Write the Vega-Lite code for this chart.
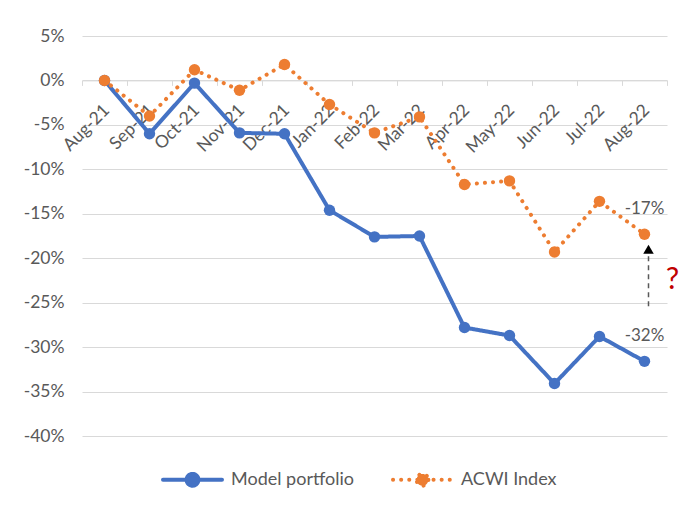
{
  "$schema": "https://vega.github.io/schema/vega-lite/v6.json",
  "width": 585,
  "height": 400,
  "autosize": {"type": "none"},
  "padding": {"left": 82, "top": 36, "right": 22, "bottom": 70},
  "background": "white",
  "config": {
    "view": {"stroke": null},
    "font": "Lato",
    "axis": {"labelFont": "Lato", "labelColor": "#595959", "labelFontSize": 17.5}
  },
  "datasets": {
    "perf": [
      {"month": "Aug-21", "series": "Model portfolio", "value": 0},
      {"month": "Sep-21", "series": "Model portfolio", "value": -6.0},
      {"month": "Oct-21", "series": "Model portfolio", "value": -0.3},
      {"month": "Nov-21", "series": "Model portfolio", "value": -5.9},
      {"month": "Dec-21", "series": "Model portfolio", "value": -6.0},
      {"month": "Jan-22", "series": "Model portfolio", "value": -14.6},
      {"month": "Feb-22", "series": "Model portfolio", "value": -17.6},
      {"month": "Mar-22", "series": "Model portfolio", "value": -17.5},
      {"month": "Apr-22", "series": "Model portfolio", "value": -27.8},
      {"month": "May-22", "series": "Model portfolio", "value": -28.7},
      {"month": "Jun-22", "series": "Model portfolio", "value": -34.1},
      {"month": "Jul-22", "series": "Model portfolio", "value": -28.8},
      {"month": "Aug-22", "series": "Model portfolio", "value": -31.6},
      {"month": "Aug-21", "series": "ACWI Index", "value": 0},
      {"month": "Sep-21", "series": "ACWI Index", "value": -4.0},
      {"month": "Oct-21", "series": "ACWI Index", "value": 1.2},
      {"month": "Nov-21", "series": "ACWI Index", "value": -1.1},
      {"month": "Dec-21", "series": "ACWI Index", "value": 1.8},
      {"month": "Jan-22", "series": "ACWI Index", "value": -2.7},
      {"month": "Feb-22", "series": "ACWI Index", "value": -5.9},
      {"month": "Mar-22", "series": "ACWI Index", "value": -4.1},
      {"month": "Apr-22", "series": "ACWI Index", "value": -11.7},
      {"month": "May-22", "series": "ACWI Index", "value": -11.3},
      {"month": "Jun-22", "series": "ACWI Index", "value": -19.3},
      {"month": "Jul-22", "series": "ACWI Index", "value": -13.6},
      {"month": "Aug-22", "series": "ACWI Index", "value": -17.3}
    ],
    "labels": [
      {"month": "Aug-22", "value": -17.3, "label": "-17%"},
      {"month": "Aug-22", "value": -31.6, "label": "-32%"}
    ],
    "question": [
      {"month": "Aug-22", "value": -22.5, "label": "?"}
    ],
    "arrow": [
      {"month": "Aug-22", "low": -25.4, "high": -19.6, "head": -19.0}
    ]
  },
  "encoding": {
    "x": {
      "field": "month",
      "type": "ordinal",
      "sort": ["Aug-21", "Sep-21", "Oct-21", "Nov-21", "Dec-21", "Jan-22", "Feb-22", "Mar-22", "Apr-22", "May-22", "Jun-22", "Jul-22", "Aug-22"],
      "scale": {"type": "band", "paddingInner": 0, "paddingOuter": 0},
      "axis": {
        "title": null,
        "offset": -355.6,
        "labelAngle": -45,
        "labelAlign": "right",
        "labelBaseline": "middle",
        "labelOffset": 2,
        "grid": false,
        "domainColor": "#d9d9d9",
        "tickColor": "#d9d9d9",
        "tickSize": 5,
        "tickBand": "extent",
        "labelPadding": 22
      }
    }
  },
  "layer": [
    {
      "data": {"name": "perf"},
      "mark": {"type": "line", "strokeWidth": 4, "strokeCap": "round", "strokeJoin": "round"},
      "encoding": {
        "y": {
          "field": "value",
          "type": "quantitative",
          "scale": {"domain": [-40, 5], "nice": false, "zero": false},
          "axis": {
            "title": null,
            "values": [-40, -35, -30, -25, -20, -15, -10, -5, 0, 5],
            "labelExpr": "datum.value + '%'",
            "domain": false,
            "ticks": false,
            "gridColor": "#d9d9d9",
            "labelPadding": 18
          }
        },
        "color": {
          "field": "series",
          "type": "nominal",
          "sort": ["Model portfolio", "ACWI Index"],
          "scale": {"domain": ["Model portfolio", "ACWI Index"], "range": ["#4472C4", "#ED7D31"]},
          "legend": {
            "orient": "none",
            "legendX": 79,
            "legendY": 412,
            "direction": "horizontal",
            "title": null,
            "symbolType": "M-1,0L1,0M0.2,0A0.2,0.2,0,1,1,-0.2,0A0.2,0.2,0,1,1,0.2,0Z",
            "symbolSize": 3481,
            "symbolStrokeWidth": 4,
            "labelFontSize": 18,
            "labelColor": "#595959",
            "labelOffset": 7,
            "columnPadding": 31,
            "encode": {
              "symbols": {
                "update": {
                  "fill": {"scale": "color", "field": "value"},
                  "stroke": {"scale": "color", "field": "value"},
                  "strokeDash": {"signal": "datum.value === 'ACWI Index' ? [0.1, 8] : [1, 0]"},
                  "strokeCap": {"value": "round"}
                }
              }
            }
          }
        },
        "strokeDash": {
          "field": "series",
          "type": "nominal",
          "scale": {"domain": ["Model portfolio", "ACWI Index"], "range": [[1, 0], [0.1, 8]]},
          "legend": null
        }
      }
    },
    {
      "data": {"name": "perf"},
      "mark": {"type": "point", "filled": true, "opacity": 1, "size": 130},
      "encoding": {
        "y": {"field": "value", "type": "quantitative"},
        "color": {"field": "series", "type": "nominal"}
      }
    },
    {
      "data": {"name": "labels"},
      "mark": {"type": "text", "dy": -25, "fontSize": 17, "color": "#595959", "baseline": "middle", "align": "center"},
      "encoding": {
        "y": {"field": "value", "type": "quantitative"},
        "text": {"field": "label"}
      }
    },
    {
      "data": {"name": "arrow"},
      "mark": {"type": "rule", "strokeDash": [5, 4], "strokeWidth": 1.5, "color": "#595959", "xOffset": 4},
      "encoding": {
        "y": {"field": "low", "type": "quantitative"},
        "y2": {"field": "high"}
      }
    },
    {
      "data": {"name": "arrow"},
      "mark": {"type": "point", "shape": "triangle-up", "filled": true, "opacity": 1, "size": 110, "color": "#000000", "xOffset": 4},
      "encoding": {
        "y": {"field": "head", "type": "quantitative"}
      }
    },
    {
      "data": {"name": "question"},
      "mark": {"type": "text", "fontSize": 30, "color": "#C00000", "baseline": "middle", "align": "center", "dx": 28, "clip": false},
      "encoding": {
        "y": {"field": "value", "type": "quantitative"},
        "text": {"field": "label"}
      }
    }
  ]
}
